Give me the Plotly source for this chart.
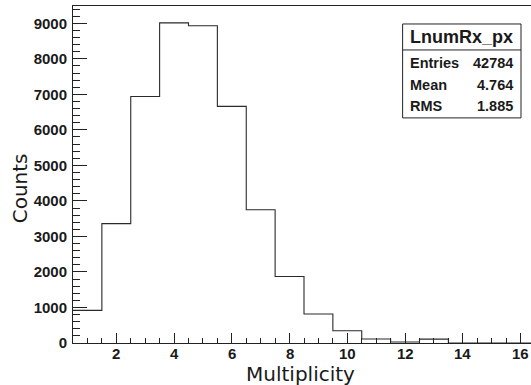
import plotly.graph_objects as go

# ---- data ----
bin_centers = [1, 2, 3, 4, 5, 6, 7, 8, 9, 10, 11, 12, 13, 14, 15, 16]
counts = [918, 3360, 6940, 9010, 8930, 6660, 3750, 1870, 815, 345, 112, 30, 110, 0, 0, 0]
x_tick_vals = [2, 4, 6, 8, 10, 12, 14, 16]
x_tick_text = ["2", "4", "6", "8", "10", "12", "14", "16"]
y_tick_vals = [0, 1000, 2000, 3000, 4000, 5000, 6000, 7000, 8000, 9000]
stat_title = "LnumRx_px"
stat_labels = ["Entries", "Mean", "RMS"]
stat_values = ["42784", "4.764", "1.885"]

W, H = 531, 385
L, R, T, B = 72.6, 0, 6, 41.7
pw, ph = W - L - R, H - T - B

def px(x):
    return (x - L) / pw

def py(y):
    return (H - B - y) / ph

# step outline built from bin edges
edges_x = [c - 0.5 for c in bin_centers] + [bin_centers[-1] + 0.5]
edges_y = counts + [counts[-1]]

fig = go.Figure()
fig.add_trace(go.Scatter(
    x=edges_x, y=edges_y, mode="lines", line_shape="hv",
    line=dict(color="#2a2a2a", width=1.1), hoverinfo="skip", showlegend=False,
))

tfont = dict(family="Liberation Sans", size=15, color="#1a1a1a", weight="bold")
titlefont = dict(family="DejaVu Sans", size=20, color="#1a1a1a")

fig.update_layout(
    width=W, height=H,
    margin=dict(l=L, r=R, t=T, b=B),
    paper_bgcolor="white", plot_bgcolor="white",
    showlegend=False,
    xaxis=dict(
        range=[0.5, 0.5 + pw / 28.9], tickvals=x_tick_vals, showticklabels=False,
        ticks="inside", ticklen=10, tickwidth=1, tickcolor="#222",
        minor=dict(dtick=0.5, tick0=0.5, ticks="inside", ticklen=5, tickcolor="#222", tickwidth=1, showgrid=False),
        showgrid=False, zeroline=False, showline=True, linecolor="#222", linewidth=1, mirror=True,
    ),
    yaxis=dict(
        range=[0, 9486], tickvals=y_tick_vals,
        ticks="inside", ticklen=14, tickwidth=1, tickcolor="#222",
        minor=dict(dtick=200, ticks="inside", ticklen=7, tickcolor="#222", tickwidth=1, showgrid=False),
        showgrid=False, zeroline=False, showline=True, linecolor="#222", linewidth=1, mirror=True,
        tickfont=tfont, ticklabelstandoff=2,
    ),
)

annotations = []
# x tick labels placed on the x scale
for v, t in zip(x_tick_vals, x_tick_text):
    annotations.append(dict(text=t, x=v, xref="x", y=py(353.5), yref="paper", showarrow=False,
                            font=tfont, xanchor="center", yanchor="middle", borderpad=0))
# axis titles
annotations.append(dict(text="Multiplicity", x=px(300), y=py(361.5), xref="paper", yref="paper",
                        showarrow=False, font=titlefont, xanchor="center", yanchor="top", borderpad=0))
annotations.append(dict(text="Counts", x=px(19), y=py(188), xref="paper", yref="paper",
                        showarrow=False, font=titlefont, textangle=-90, xanchor="center", yanchor="middle"))

# stat box
bx0, bx1, by0, by1, bsep = 402.5, 521, 24, 118, 50
shapes = [
    dict(type="rect", xref="paper", yref="paper", x0=px(bx0), x1=px(bx1), y0=py(by1), y1=py(by0),
         line=dict(color="#222", width=1), fillcolor="white", layer="above"),
    dict(type="line", xref="paper", yref="paper", x0=px(bx0), x1=px(bx1), y0=py(bsep), y1=py(bsep),
         line=dict(color="#222", width=1), layer="above"),
]
annotations.append(dict(text="<b>%s</b>" % stat_title, x=px((bx0 + bx1) / 2), y=py(37.5), xref="paper", yref="paper",
                        showarrow=False, font=dict(family="Liberation Sans", size=18, color="#1a1a1a"),
                        xanchor="center", yanchor="middle"))
row_y = [63, 85, 106]
for lab, val, yy in zip(stat_labels, stat_values, row_y):
    annotations.append(dict(text="<b>%s</b>" % lab, x=px(408), y=py(yy), xref="paper", yref="paper",
                            showarrow=False, font=dict(family="Liberation Sans", size=14.5, color="#1a1a1a"),
                            xanchor="left", yanchor="middle"))
    annotations.append(dict(text="<b>%s</b>" % val, x=px(515), y=py(yy), xref="paper", yref="paper",
                            showarrow=False, font=dict(family="Liberation Sans", size=14.5, color="#1a1a1a"),
                            xanchor="right", yanchor="middle"))

fig.update_layout(annotations=annotations, shapes=shapes)
fig.write_html("out.html")
